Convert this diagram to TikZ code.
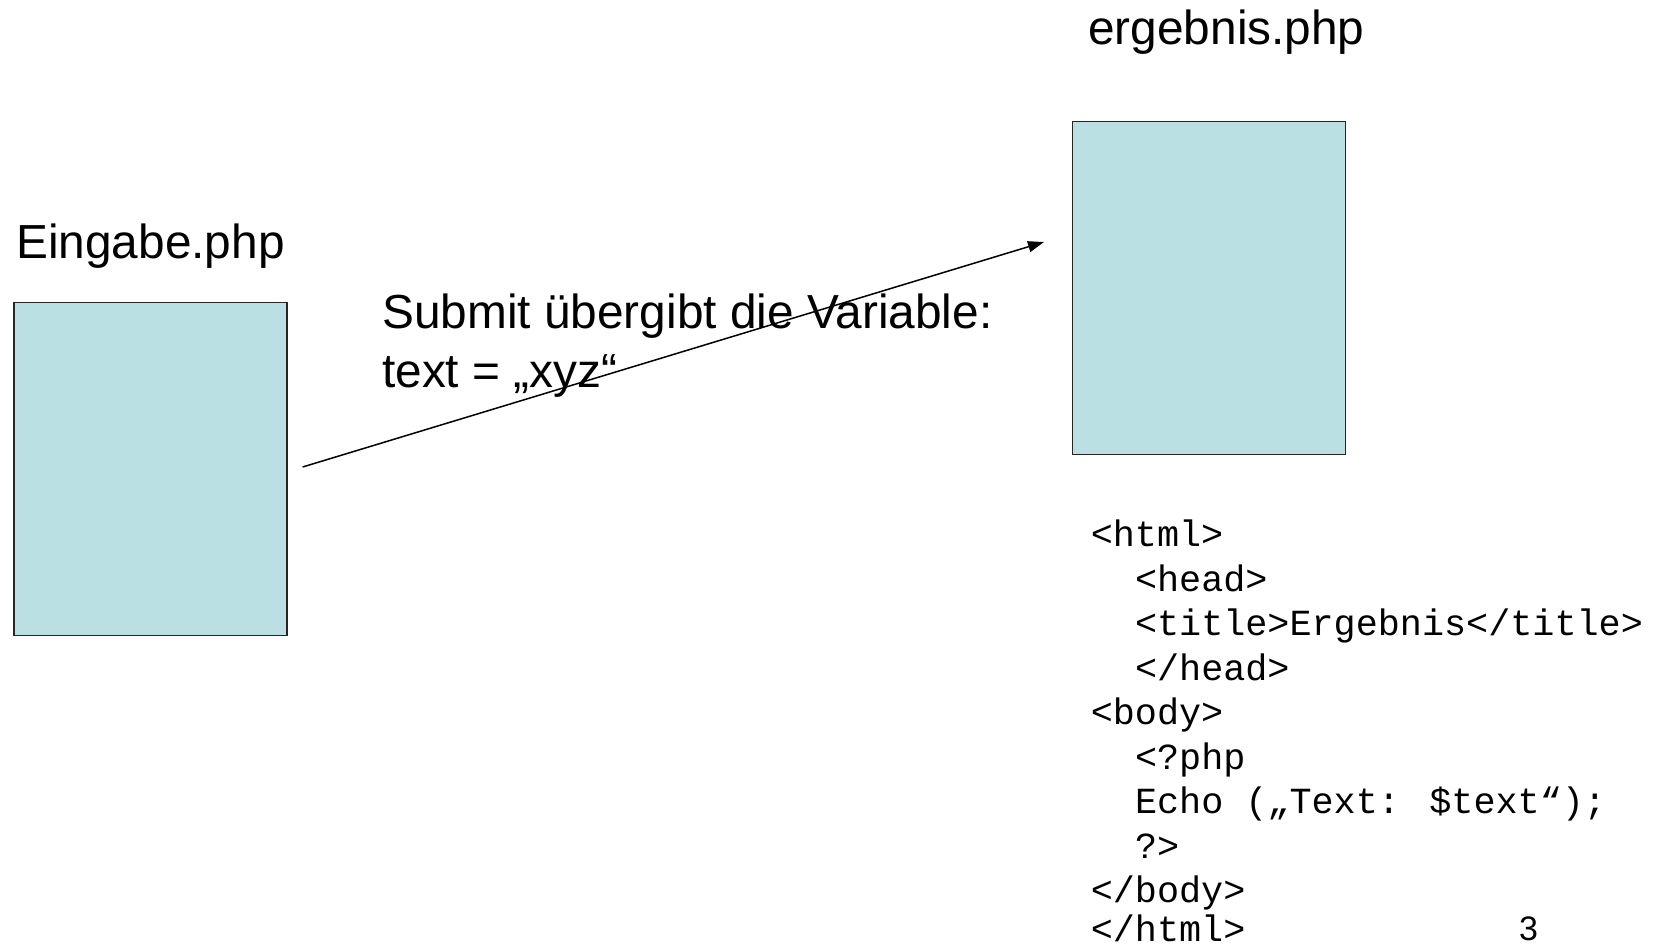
\documentclass[tikz,border=0pt]{standalone}
\usepackage{fontspec}
\setmainfont{Liberation Sans}
\newfontfamily\codefont{Liberation Mono}
\usetikzlibrary{arrows.meta}
\definecolor{boxfill}{HTML}{BBE0E3}
\begin{document}
\begin{tikzpicture}[x=1pt,y=-1pt,
  page/.style={draw=black!85,line width=1.6pt,fill=boxfill,inner sep=0pt,
    minimum width=273pt,minimum height=333pt},
  lbl/.style={anchor=base west,inner sep=0pt,font=\fontsize{47.8}{56}\selectfont},
  codeln/.style={anchor=base west,inner sep=0pt,font=\codefont\fontsize{36.8}{44.7}\selectfont},
  conn/.style={line width=1.5pt,-{Triangle[length=16pt,width=11pt]}}]
\useasboundingbox (0,0) rectangle (1665,950);
\node[page] (lbox) at (150.3,468.8) {};
\node[page] (rbox) at (1209,287.8) {};
\node[lbl] (ltitle) at (16,258) {Eingabe.php};
\node[lbl] (rtitle) at (1088,45) {ergebnis.php};
\node[lbl] (sub1) at (382,328) {Submit übergibt die Variable:};
\node[lbl] (sub2) at (382,387) {text = „xyz“};
\coordinate (astart) at (302.6,467);
\coordinate (aend) at (1044,242);
\draw[conn] (astart) -- (aend);
\node[codeln] (c1) at (1090.6,546.5) {<html>};
\node[codeln] (c2) at (1134.8,591.0) {<head>};
\node[codeln] (c3) at (1134.8,635.5) {<title>Ergebnis</title>};
\node[codeln] (c4) at (1134.8,680.0) {</head>};
\node[codeln] (c5) at (1090.6,724.5) {<body>};
\node[codeln] (c6) at (1134.8,769.0) {<?php};
\node[codeln] (c7) at (1134.8,813.5) {Echo („Text: \$text“);};
\node[codeln] (c8) at (1134.8,858.0) {?>};
\node[codeln] (c9) at (1090.6,902.5) {</body>};
\node[codeln] (c10) at (1090.6,941.5) {</html>};
\node[anchor=base west,inner sep=0pt,font=\fontsize{34}{40}\selectfont] (pnum) at (1519,940) {3};
\end{tikzpicture}
\end{document}
